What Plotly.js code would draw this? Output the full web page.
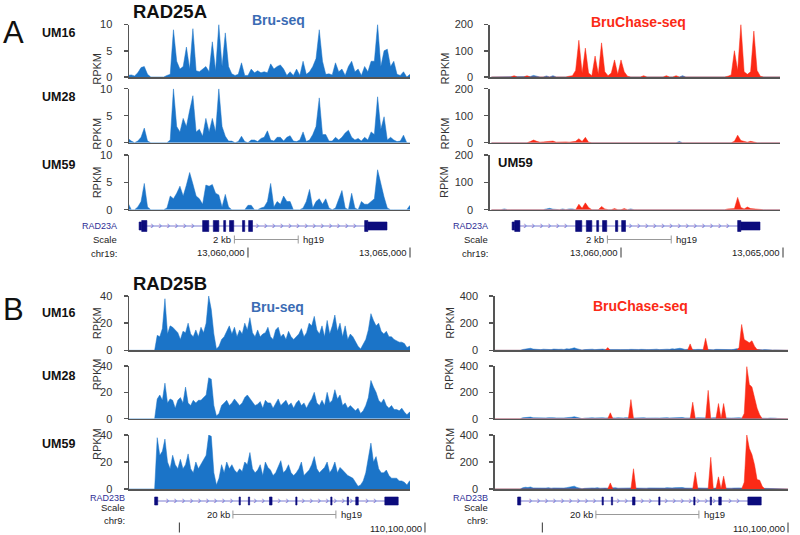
<!DOCTYPE html>
<html><head><meta charset="utf-8">
<script src="https://cdn.plot.ly/plotly-3.0.1.min.js"></script>
<style>html,body{margin:0;padding:0;background:#fff}#chart{width:800px;height:535px}</style>
</head><body><div id="chart"></div>
<script>
// ================= DATA =================
const sampleLabels = ['UM16', 'UM28', 'UM59'];
// RAD23A region: position in kb relative to chr19:13,060,000, 0.1 kb bins
const posA = Array.from({length: 91}, (_, i) => +(-4 + 0.1 * i).toFixed(2));
// RAD23B region: position in kb relative to chr9:110,100,000, 0.5 kb bins
const posB = Array.from({length: 117}, (_, i) => +(-58 + 0.5 * i).toFixed(2));

// --- Panel A, Bru-seq (RPKM) ---
const bruA_UM16 = [0,0,0,0.3,0.4,0.2,0.8,1.8,2.0,0.5, 0,0,0,0,0,0.3,0.5,9.0,3.0,1.5, 2.0,5.7,1.5,9.2,1.2,1.0,1.5,2.0,1.0,6.7,
  1.2,10,2.0,8.4,2.0,0.6,0.3,0.5,2.7,0.3, 0.3,1.5,0.8,1.2,0.8,1.0,0.8,2.5,1.5,2.0, 2.3,1.5,0.3,1.0,0.3,1.5,0.3,3.0,0.5,1.0,
  2.0,3.5,9.0,3.0,0.5,0.6,0.4,2.7,1.0,1.5, 0.3,2.0,3.0,1.0,1.5,0.3,2.0,1.0,3.0,3.0, 10,2.0,5.0,5.3,2.0,3.0,0.5,0.3,1.0,0, 0.5];
const bruA_UM28 = [0,0,0.5,0.8,0.3,0,0.3,1.0,2.7,0.3, 0,0,0,0,0,0,0.5,10,3,2.0, 4.5,3.0,6,8.7,2.0,2.5,1.2,4.5,2.0,4.5,
  2.0,10,3,1.2,0.3,0.3,0,0.2,1.2,0.2, 0,0.5,0.5,0.2,0.8,1.0,2.2,0.5,0.3,1.0, 1.0,0.3,1.0,1.3,0.3,0.2,0.5,2.0,0.2,0.5,
  1.5,3.0,8.3,1.5,1.5,0.3,0.3,1.0,0.5,1.0, 1.8,2.3,1.0,0.5,0.8,0.3,1.0,0.5,2.0,1.5, 8.5,2.5,4.8,0.5,1.0,0.5,0.2,0.3,1.4,0, 0];
const bruA_UM59 = [0,0,0.8,1.2,0,0,0.5,1.5,4.8,0.5, 0,0,0,0,0,0.3,2.5,2,3.0,4.3, 2.5,4.5,6.8,4.7,2.5,2.0,1.0,4.5,4.3,4.6,
  3.0,2.7,0.5,2.8,0.5,0,0,0,0,0, 0.8,0.8,0,0,0.3,0.5,1.5,4.8,0.5,1.5, 1.0,2.5,1.5,1.5,0,0,0,0.3,1.5,3.7,
  0.3,1.5,2.0,1.0,2.0,0.3,0,0.3,2.0,3.5, 0.3,0,3.0,0.3,0,1.5,1.0,1.0,1.5,2.0, 7.3,4.5,2.3,0.3,0,0,0,0,0,0, 0.8];

// --- Panel A, BruChase-seq (RPKM): blue = background strand, red = chase signal ---
const chaseA_UM16_blue = [0,0,0,0,0,0,0,0,0,1, 0,0,2,6,2,0,0,4,0,5, 0,0,1,0,0,0,0,0,0,0, 0,0,0,0,0,0,0,0,0,0,
  0,0,0,0,0,1,0,0,0,0, 0,0,0,0,0,0,0,0,0,5, 0,0,0,0,0,1,0,0,0,0, 0,0,0,0,0,0,0,0,0,0, 0,0,0,0,0,0,0,0,0,0, 0];
const chaseA_UM16_red = [0,0,0,0,0,0,0,5,0,0, 0,5,0,0,0,0,0,0,0,0, 0,0,0,0,3,5,25,140,15,110, 15,5,80,10,130,20,5,15,65,10,
  65,20,3,0,0,0,0,5,0,0, 0,0,0,0,5,0,0,5,0,0, 0,0,0,0,0,0,0,0,0,0, 0,0,0,3,8,100,25,200,20,10, 20,175,25,3,0,0,0,0,0,0, 0];
const chaseA_UM28_blue = [0,0,0,1,0,0,0,0,0,0, 0,0,0,0,0,0,0,0,0,0, 0,0,0,0,0,0,0,0,0,0, 0,0,0,0,0,0,0,0,0,0,
  0,0,0,0,0,0,0,0,0,0, 0,0,0,0,0,0,0,0,4,0, 0,0,0,0,0,0,0,0,0,0, 0,0,0,0,0,0,0,0,0,0, 0,0,0,0,0,0,0,0,0,0, 0];
const chaseA_UM28_red = [0,0,0,0,0,0,0,0,0,0, 0,0,4,10,5,2,3,4,3,6, 2,3,2,3,2,4,5,15,4,20, 2,0,0,0,0,0,0,0,0,0,
  0,0,0,0,0,0,0,0,0,0, 0,0,0,0,0,0,0,0,0,0, 0,0,0,0,0,0,0,0,0,0, 0,0,0,0,0,5,28,8,6,2, 5,2,0,0,0,0,0,0,0,0, 0];
const chaseA_UM59_blue = [0,0,0,0,3,0,0,0,0,0, 0,0,0,0,0,2,0,3,5,2, 0,0,3,0,3,3,0,0,0,0, 0,0,0,0,0,0,0,0,0,0,
  0,0,0,3,0,0,0,0,0,0, 2,0,0,0,0,0,0,0,0,0, 2,0,0,0,0,0,0,0,0,0, 0,0,0,0,0,0,0,0,0,0, 0,0,0,0,0,0,0,0,0,0, 0];
const chaseA_UM59_red = [0,0,0,0,0,0,0,0,0,0, 0,0,0,0,0,0,0,0,0,0, 0,0,0,0,0,0,0,20,5,25, 8,0,0,0,12,3,0,0,4,0,
  0,4,0,0,0,0,0,0,0,0, 0,0,0,0,0,0,0,0,0,0, 0,0,0,0,0,0,0,0,0,0, 0,0,0,3,3,4,45,8,3,10, 4,3,0,0,0,0,0,0,0,0, 0];

// --- Panel B, Bru-seq (RPKM) ---
const bruB_UM16 = [0,0,0,0,0,0,0,0,0,0, 0,0,11,10,16,38,12,18,17,15, 13,8,14,13,20,12,10,15,10,17, 13,20,40,30,12,1,3,8,10,14,
  18,12,17,10,15,12,20,15,24,13, 10,15,10,12,13,17,10,8,15,17, 10,12,8,14,10,8,10,12,16,10, 13,20,18,25,15,12,18,10,22,12,
  18,26,14,20,10,18,8,12,10,6, 3,1,4,8,15,27,22,18,20,14, 12,14,10,10,8,7,6,6,5,2, 3,4,2,2,1,1,0];
const bruB_UM28 = [0,0,0,0,0,0,0,0,0,0, 0,0,15,18,14,27,12,15,14,8, 14,16,12,24,12,10,14,12,14,14, 16,18,31,30,10,2,4,10,12,14,
  10,12,15,12,10,12,16,18,15,12, 10,11,13,8,14,12,12,8,12,15, 10,12,14,10,12,8,12,14,10,12, 8,12,15,20,12,10,14,10,20,12,
  14,22,15,18,10,12,8,10,8,6, 8,4,6,10,16,29,24,20,14,12, 15,10,8,10,7,7,6,8,5,3, 5,4,2,1,1,0,0];
const bruB_UM59 = [0,0,0,0,0,0,0,0,0,0, 0,0,38,25,28,37,20,15,25,18, 15,22,15,18,26,15,12,20,15,18, 22,25,40,39,12,3,8,18,12,20,
  15,18,14,12,15,13,20,18,27,15, 12,14,18,10,20,16,14,10,12,16, 21,12,14,18,12,10,12,15,20,10, 12,14,18,24,15,12,14,16,20,12,
  15,20,12,16,14,12,10,9,8,5, 2,3,6,12,22,34,20,24,15,12, 12,14,10,8,8,8,6,6,5,3, 6,4,2,1,1,0,0];

// --- Panel B, BruChase-seq (RPKM) ---
const chaseB_UM16_blue = [0,0,0,0,0,0,0,0,0,0, 0,0,0,6,9,7,15,9,6,7, 5,8,6,7,5,9,6,7,8,6, 11,9,13,18,12,5,2,5,7,6,
  8,5,7,6,9,6,7,5,7,8, 6,5,7,9,6,7,5,8,6,7, 9,6,5,7,6,8,5,7,6,8, 7,11,9,13,15,12,6,7,5,8,
  6,7,9,6,7,5,6,4,7,6, 5,8,6,4,5,7,12,9,7,6, 8,6,7,5,6,5,4,5,3,4, 2,3,2,2,1,1,0];
const chaseB_UM16_red = [0,0,0,0,0,0,0,0,0,0, 0,0,0,0,0,0,0,0,0,0, 0,0,0,0,0,0,0,0,0,0, 0,0,0,0,0,0,0,0,0,0,
  0,0,0,0,0,0,20,0,0,0, 0,0,0,0,0,0,0,0,0,0, 0,0,0,0,0,0,0,0,0,0, 0,0,0,0,0,0,0,0,47,0,
  0,0,0,0,88,0,0,0,0,0, 0,0,0,0,0,0,0,20,190,80, 65,55,70,30,5,0,0,0,0,0, 0,0,0,0,0,0,0];
const chaseB_UM28_blue = [0,0,0,0,0,0,0,0,0,0, 0,0,0,7,8,11,12,7,6,8, 5,7,6,8,5,7,6,5,7,6, 8,7,11,15,9,4,1,4,6,5,
  7,6,8,5,7,6,5,7,8,6, 7,5,6,8,6,7,5,6,8,6, 7,5,6,8,7,6,5,7,6,8, 6,7,8,11,12,9,6,5,7,6,
  5,7,6,8,5,6,5,7,6,5, 4,5,6,4,5,6,8,7,6,7, 6,5,6,5,4,5,6,4,3,5, 2,4,2,2,1,1,0];
const chaseB_UM28_red = [0,0,0,0,0,0,0,0,0,0, 0,0,0,0,0,0,0,0,0,0, 0,0,0,0,0,0,0,0,0,0, 0,0,0,0,0,0,0,0,0,0,
  0,0,0,0,0,0,0,45,0,0, 0,0,0,0,0,145,0,0,0,0, 0,0,0,0,0,0,0,0,0,0, 0,0,0,0,0,0,0,0,0,125,
  0,0,0,0,0,215,0,0,0,115, 0,115,0,0,0,0,0,0,0,40, 395,260,240,160,80,30,0,0,0,0, 0,0,0,0,0,0,0];
const chaseB_UM59_blue = [0,0,0,0,0,0,0,0,0,0, 0,0,0,9,13,11,15,8,7,10, 6,8,7,10,6,8,7,6,8,7, 10,12,15,21,12,5,2,5,7,6,
  8,7,10,6,8,7,6,8,7,10, 6,7,8,6,7,6,8,7,6,8, 7,6,8,7,6,7,6,8,7,10, 7,8,10,12,13,11,7,6,8,7,
  6,8,7,6,7,6,7,5,7,6, 5,6,5,4,6,7,10,8,7,6, 7,6,7,5,6,5,4,5,4,3, 4,2,3,2,1,1,0];
const chaseB_UM59_red = [0,0,0,0,0,0,0,0,0,0, 0,0,0,0,0,0,0,0,0,0, 0,0,0,0,0,0,0,0,0,0, 0,0,0,0,0,0,0,0,0,0,
  0,0,0,0,0,0,0,45,0,0, 0,0,0,0,0,0,150,0,0,0, 0,0,0,0,0,0,0,0,0,0, 0,0,0,0,0,0,0,0,0,0,
  125,0,0,0,0,0,235,0,0,90, 0,95,0,0,0,0,0,0,0,50, 400,300,255,180,70,65,20,0,0,0, 0,0,0,0,0,0,0];

// --- Gene models (kb relative to the same reference positions) ---
const rad23aExons = [[-3.28,-3.12],[-1.40,-1.21],[-1.07,-0.90],[-0.75,-0.69],[-0.57,-0.44],[-0.17,-0.10],[0.02,0.14],[3.60,3.70]];
const rad23aUTRs  = [[-3.36,-3.28],[3.70,4.29]];
const rad23aSpan  = [-3.36, 4.29];
const rad23bExons = [[-52.5,-51.9],[-36.1,-35.85],[-34.3,-34.05],[-30.2,-29.7],[-25.1,-24.85],[-18.3,-18.05],[-15.1,-14.85],[-13.45,-12.95],[-7.8,-5.2]];
const rad23bUTRs  = [];
const rad23bSpan  = [-52.5, -5.2];
const scaleBarA = [-0.42, 1.55];   // 2 kb
const scaleBarB = [-37.3, -17.3];  // 20 kb
const chrTicksA = [0, 5];           // 13,060,000 and 13,065,000
const chrTickLabelsA = ['13,060,000', '13,065,000'];
const chrTicksB = [-47.7, 0];
const chrTickLabelsB = ['', '110,100,000'];
const yTicksA = [[0,5,10],[0,100,200]];
const yTicksB = [[0,20,40],[0,200,400]];

// ================= STYLE / LAYOUT =================
const FONT = 'Liberation Sans, Arial, Helvetica, sans-serif';
const BLUE = '#1b74c8', RED = '#fb2a16', AXC = '#555';
const fx = px => px / 800, fy = px => 1 - px / 535;

const cols = {
  LA: {dom: [129, 410], range: [-3.672, 5.0], lab: 119, left: true},
  RA: {dom: [489.7, 780], range: [-4.052, 4.907], lab: 490},
  LB: {dom: [129, 410], range: [-57.48, -2.91], lab: 127, left: true},
  RB: {dom: [494.7, 788], range: [-56.95, 0], lab: 490}
};
const rowsA = [[24.5, 77], [88.7, 142.7], [155, 209.7]];
const rowsB = [[296, 350.3], [366, 418.7], [435, 489]];

const layout = {width: 800, height: 535, margin: {l: 0, r: 0, t: 0, b: 0}, paper_bgcolor: '#fff',
  plot_bgcolor: 'rgba(0,0,0,0)', showlegend: false, font: {family: FONT, color: '#222'}, annotations: []};
const traces = [];
let n = 0;
const ids = k => ({xa: 'xaxis' + (k === 1 ? '' : k), ya: 'yaxis' + (k === 1 ? '' : k), x: 'x' + (k === 1 ? '' : k), y: 'y' + (k === 1 ? '' : k)});

function panel(col, row, ticks, series, pos) {
  n++; const a = ids(n);
  layout[a.xa] = {domain: [fx(col.dom[0]), fx(col.dom[1])], range: col.range, anchor: a.y, showline: true, linecolor: AXC,
    linewidth: 1.5, ticks: '', showticklabels: false, showgrid: false, zeroline: false, fixedrange: true};
  layout[a.ya] = {domain: [fy(row[1]), fy(row[0])], range: [0, ticks[2]], anchor: a.x, showline: true, linecolor: AXC,
    linewidth: 1.5, ticks: 'outside', ticklen: 4, tickwidth: 1.5, tickcolor: AXC, tickvals: ticks,
    ticktext: ticks.map(String), tickfont: {size: 11, color: '#333', family: FONT}, ticklabelstandoff: 9,
    showgrid: false, zeroline: false, fixedrange: true};
  series.forEach(s => traces.push({type: 'scatter', mode: 'lines', x: pos, y: s.y, xaxis: a.x, yaxis: a.y,
    fill: 'tozeroy', fillcolor: s.c, line: {color: s.c, width: 0.5}, hoverinfo: 'skip'}));
  layout.annotations.push({text: 'RPKM', xref: 'paper', yref: 'paper', x: fx(col.dom[0] - (col.left ? 40 : 45)),
    y: fy((row[0] + row[1]) / 2), textangle: -90, showarrow: false, font: {size: 11, color: '#333', family: FONT}});
}

function gene(col, topPx, name, exons, utrs, span, hEx, hUtr, chevStep, bar, barLabel, chrName, tks, tkLabels, extendPx, nameShift) {
  n++; const a = ids(n);
  const kbPerPx = (col.range[1] - col.range[0]) / (col.dom[1] - col.dom[0]);
  layout[a.xa] = {domain: [fx(col.dom[0]), fx(col.dom[1] + extendPx)], range: [col.range[0], col.range[1] + extendPx * kbPerPx],
    anchor: a.y, visible: false, fixedrange: true};
  layout[a.ya] = {domain: [fy(topPx + 42), fy(topPx)], range: [-32, 10], anchor: a.x, visible: false, fixedrange: true};
  traces.push({type: 'scatter', mode: 'lines', x: span, y: [0, 0], xaxis: a.x, yaxis: a.y, line: {color: '#7c7cd2', width: 1}, hoverinfo: 'skip'});
  const blocks = exons.concat(utrs);
  const cx = [];
  for (let p = span[0] + chevStep * 0.6; p < span[1] - chevStep * 0.3; p += chevStep) {
    if (!blocks.some(b => p > b[0] - chevStep * 0.25 && p < b[1] + chevStep * 0.25)) cx.push(p);
  }
  traces.push({type: 'scatter', mode: 'text', x: cx, y: cx.map(() => 0), text: cx.map(() => '›'), xaxis: a.x, yaxis: a.y,
    textposition: 'middle center', textfont: {size: 11, color: '#7c7cd2', family: FONT}, cliponaxis: false, hoverinfo: 'skip'});
  const poly = (list, h) => { const X = [], Y = []; list.forEach(b => { X.push(b[0], b[1], b[1], b[0], b[0], null); Y.push(h, h, -h, -h, h, null); }); return {X, Y}; };
  [[exons, hEx], [utrs, hUtr]].forEach(([list, h]) => { if (!list.length) return; const p = poly(list, h);
    traces.push({type: 'scatter', mode: 'lines', x: p.X, y: p.Y, fill: 'toself', fillcolor: '#0b0b7c', line: {color: '#0b0b7c', width: 0.6},
      xaxis: a.x, yaxis: a.y, hoverinfo: 'skip'}); });
  const sy = -13.5;
  traces.push({type: 'scatter', mode: 'lines', x: [bar[0], bar[0], null, bar[0], bar[1], null, bar[1], bar[1]],
    y: [sy + 4, sy - 4, null, sy, sy, null, sy + 4, sy - 4], xaxis: a.x, yaxis: a.y, line: {color: '#999', width: 1}, hoverinfo: 'skip'});
  layout.annotations.push({text: barLabel, xref: a.x, yref: a.y, x: bar[0], y: sy, xanchor: 'right', xshift: -1, showarrow: false,
    font: {size: 9.5, color: '#222', family: FONT}});
  layout.annotations.push({text: 'hg19', xref: a.x, yref: a.y, x: bar[1], y: sy, xanchor: 'left', xshift: 3, showarrow: false,
    font: {size: 9.5, color: '#222', family: FONT}});
  const tx = [], ty = [];
  tks.forEach(t => { tx.push(t, t, null); ty.push(-21.5, -31.5, null); });
  traces.push({type: 'scatter', mode: 'lines', x: tx, y: ty, xaxis: a.x, yaxis: a.y, line: {color: '#333', width: 1}, hoverinfo: 'skip'});
  tks.forEach((t, i) => { if (tkLabels[i]) layout.annotations.push({text: tkLabels[i], xref: a.x, yref: a.y, x: t, y: -27, xanchor: 'right',
    xshift: -1, showarrow: false, font: {size: 9.5, color: '#222', family: FONT}}); });
  [[name, -(nameShift || 0), '#2e2e96', 9], ['Scale', sy, '#222', 9.5], [chrName, -27, '#222', 9.5]].forEach(([t, yv, c, fs]) =>
    layout.annotations.push({text: t, xref: 'paper', yref: 'paper', x: fx(col.lab), y: fy(topPx + 10 - yv), xanchor: 'right',
      showarrow: false, font: {size: fs, color: c, family: FONT}}));
}

// ---- panel A ----
const bruA = [bruA_UM16, bruA_UM28, bruA_UM59];
const chaseA = [[chaseA_UM16_blue, chaseA_UM16_red], [chaseA_UM28_blue, chaseA_UM28_red], [chaseA_UM59_blue, chaseA_UM59_red]];
rowsA.forEach((r, i) => {
  panel(cols.LA, r, yTicksA[0], [{y: bruA[i], c: BLUE}], posA);
  panel(cols.RA, r, yTicksA[1], [{y: chaseA[i][0], c: BLUE}, {y: chaseA[i][1], c: RED}], posA);
});
// ---- panel B ----
const bruB = [bruB_UM16, bruB_UM28, bruB_UM59];
const chaseB = [[chaseB_UM16_blue, chaseB_UM16_red], [chaseB_UM28_blue, chaseB_UM28_red], [chaseB_UM59_blue, chaseB_UM59_red]];
rowsB.forEach((r, i) => {
  panel(cols.LB, r, yTicksB[0], [{y: bruB[i], c: BLUE}], posB);
  panel(cols.RB, r, yTicksB[1], [{y: chaseB[i][0], c: BLUE}, {y: chaseB[i][1], c: RED}], posB);
});
// ---- gene tracks ----
gene(cols.LA, 216, 'RAD23A', rad23aExons, rad23aUTRs, rad23aSpan, 5.5, 4, 0.25, scaleBarA, '2 kb', 'chr19:', chrTicksA, chrTickLabelsA, 10, 0);
gene(cols.RA, 216, 'RAD23A', rad23aExons, rad23aUTRs, rad23aSpan, 5.5, 4, 0.25, scaleBarA, '2 kb', 'chr19:', chrTicksA, chrTickLabelsA, 10, 0);
gene(cols.LB, 491, 'RAD23B', rad23bExons, rad23bUTRs, rad23bSpan, 4, 3, 1.55, scaleBarB, '20 kb', 'chr9:', chrTicksB, chrTickLabelsB, 20, 3.5);
gene(cols.RB, 491, 'RAD23B', rad23bExons, rad23bUTRs, rad23bSpan, 4, 3, 1.55, scaleBarB, '20 kb', 'chr9:', chrTicksB, chrTickLabelsB, 5, 3.5);

// ---- titles and labels ----
const ann = (text, xpx, ypx, size, color, anchor) => layout.annotations.push({text, xref: 'paper', yref: 'paper', x: fx(xpx), y: fy(ypx),
  xanchor: anchor || 'center', yanchor: 'middle', showarrow: false, font: {size, color, family: FONT}});
ann('A', 1, 33, 31, '#111', 'left');
ann('B', 1, 309, 31, '#111', 'left');
ann('<b>RAD25A</b>', 170, 11, 18.5, '#111');
ann('<b>RAD25B</b>', 170, 283, 18.5, '#111');
ann('<b>Bru-seq</b>', 278, 20, 14, '#3b6cb4');
ann('<b>Bru-seq</b>', 277, 307, 14, '#3b6cb4');
ann('<b>BruChase-seq</b>', 638, 22, 14, RED);
ann('<b>BruChase-seq</b>', 640, 306, 14, RED);
const labY = [[33, 97, 165], [313, 376, 444]];
labY.forEach(ys => ys.forEach((y, i) => ann('<b>' + sampleLabels[i] + '</b>', 40, y, 12.5, '#111', 'left')));
ann('<b>UM59</b>', 496, 162, 13, '#111', 'left');

Plotly.newPlot('chart', traces, layout, {staticPlot: true, displayModeBar: false});
</script>
</body></html>
